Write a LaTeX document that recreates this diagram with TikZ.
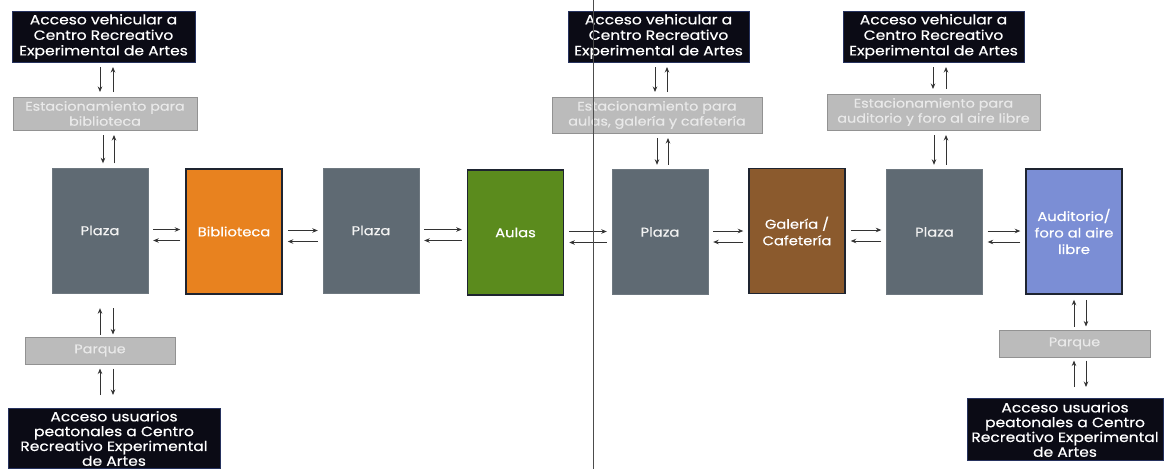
\documentclass[tikz,border=0pt]{standalone}
\usepackage{fontspec}
\setmainfont{Poppins}[FakeStretch=1.15, FakeBold=0.4]
\usetikzlibrary{arrows.meta}

\definecolor{accfill}{HTML}{0B0B15}
\definecolor{accdraw}{HTML}{26325E}
\definecolor{estfill}{HTML}{BBBBBB}
\definecolor{estdraw}{HTML}{929292}
\definecolor{esttext}{HTML}{E9E9E9}
\definecolor{plazafill}{HTML}{5F6A73}
\definecolor{plazadraw}{HTML}{6E7880}
\definecolor{bibfill}{HTML}{E8821F}
\definecolor{aulfill}{HTML}{5B8B1D}
\definecolor{galfill}{HTML}{8B5A2D}
\definecolor{audfill}{HTML}{7B8ED5}
\definecolor{zonadraw}{HTML}{1E2430}
\definecolor{arrcol}{HTML}{333333}

\begin{document}
\begin{tikzpicture}[x=1pt,y=-1pt,
	acceso/.style={ draw=accdraw, line width=1pt, fill=accfill, text=white, inner sep=0pt, align=center, font=\fontsize{13.5}{15.5}\selectfont },
	estac/.style={ draw=estdraw, line width=1pt, fill=estfill, text=esttext, inner sep=0pt, align=center, font=\fontsize{12.5}{15}\selectfont },
	plaza/.style={ draw=plazadraw, fill=plazafill, text=white!95!black, minimum width=96pt, minimum height=125pt, font=\fontsize{12.8}{16}\selectfont },
	zona/.style={ draw=zonadraw, line width=1.5pt, text=white, align=center, minimum width=96pt, minimum height=125pt, font=\fontsize{12.8}{16.5}\selectfont },
	arr/.style={ -{Stealth[length=5.5pt,width=4.5pt]}, line width=0.8pt, draw=arrcol }
]
\useasboundingbox (0,0) rectangle (1172,469);
\clip (0,0) rectangle (1172,469);

% main row
\node[plaza] (pl1) at (100,230.5) {Plaza};
\node[zona, fill=bibfill] (bib) at (234,231.5) {Biblioteca};
\node[plaza] (pl2) at (371,230.5) {Plaza};
\node[zona, fill=aulfill] (aul) at (515.5,232.5) {Aulas};
\node[plaza] (pl3) at (660,232) {Plaza};
\node[zona, fill=galfill] (gal) at (797,231) {Galería /\\Cafetería};
\node[plaza] (pl4) at (934.5,232) {Plaza};
\node[zona, fill=audfill] (aud) at (1074,231.5) {Auditorio/\\foro al aire\\libre};

% vehicle accesses and parking
\node[acceso, minimum width=183pt, minimum height=51pt] (acc1) at (103.5,36.5) {Acceso vehicular a\\Centro Recreativo\\Experimental de Artes};
\node[estac, minimum width=184pt, minimum height=33pt] (est1) at (105,113.5) {Estacionamiento para\\biblioteca};
\node[acceso, minimum width=181pt, minimum height=51pt] (acc2) at (658.5,36.5) {Acceso vehicular a\\Centro Recreativo\\Experimental de Artes};
\node[estac, minimum width=210pt, minimum height=36pt] (est2) at (657,115) {Estacionamiento para\\aulas, galería y cafetería};
\node[acceso, minimum width=181pt, minimum height=51pt] (acc3) at (933.5,36.5) {Acceso vehicular a\\Centro Recreativo\\Experimental de Artes};
\node[estac, minimum width=213pt, minimum height=36pt] (est3) at (933.5,112) {Estacionamiento para\\auditorio y foro al aire libre};

% parks and pedestrian accesses
\node[estac, minimum width=150pt, minimum height=27pt] (par1) at (100,350.5) {Parque};
\node[acceso, minimum width=212pt, minimum height=60pt, anchor=north, font=\fontsize{13.5}{14.8}\selectfont] (acc4) at (114,408) {Acceso usuarios\\peatonales a Centro\\Recreativo Experimental\\de Artes};
\node[estac, minimum width=151pt, minimum height=27pt] (par2) at (1074.5,343.5) {Parque};
\node[acceso, minimum width=196pt, minimum height=62pt, anchor=north, font=\fontsize{13.5}{14.8}\selectfont] (acc5) at (1065,398) {Acceso usuarios\\peatonales a Centro\\Recreativo Experimental\\de Artes};

% two-way links, top
\foreach \a/\b/\l/\r in {acc1/est1/-3.5/9.5, est1/pl1/-2/9, acc2/est2/-3.5/8.5, est2/pl3/0/11, acc3/est3/-0.5/12.5, est3/pl4/0.5/12.5} {
	\draw[arr, shorten <=4.5pt, shorten >=4.5pt] ([xshift=\l pt]\a.south) -- ([xshift=\l pt]\a.south |- \b.north);
	\draw[arr, shorten <=4.5pt, shorten >=4.5pt] ([xshift=\r pt]\a.south |- \b.north) -- ([xshift=\r pt]\a.south);
}

% two-way links, bottom
\foreach \a/\b/\l/\r/\st/\sb in {pl1/par1/0/13/15/2, par1/acc4/0/13/4/13, aud/par2/0/12/5/3, par2/acc5/-0.5/11.5/3/11} {
	\draw[arr, shorten <=\sb pt, shorten >=\st pt] ([xshift=\l pt]\a.south |- \b.north) -- ([xshift=\l pt]\a.south);
	\draw[arr, shorten <=\st pt, shorten >=\sb pt] ([xshift=\r pt]\a.south) -- ([xshift=\r pt]\a.south |- \b.north);
}

% two-way links, main row
\foreach \a/\b in {pl1/bib, bib/pl2, pl2/aul, aul/pl3, pl3/gal, gal/pl4, pl4/aud} {
	\draw[arr, shorten <=5pt, shorten >=5pt] ([yshift=1pt]\a.east) -- ([yshift=1pt]\a.east -| \b.west);
	\draw[arr, shorten <=5pt, shorten >=5pt] ([yshift=-10pt]\a.east -| \b.west) -- ([yshift=-10pt]\a.east);
}

% separator
\draw[line width=0.8pt, draw=black!70] (593,0) -- (593,469);

\end{tikzpicture}
\end{document}
